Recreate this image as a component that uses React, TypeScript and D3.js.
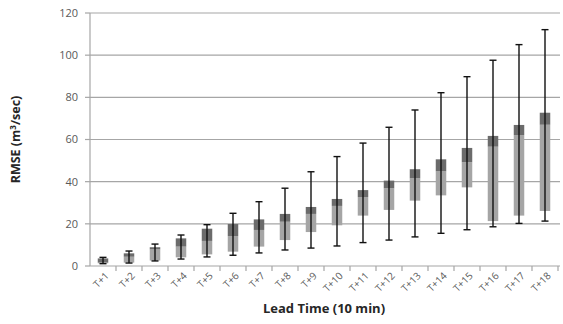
import * as d3 from "d3";

// lead times and RMSE statistics
const leadTimes = ["T+1", "T+2", "T+3", "T+4", "T+5", "T+6", "T+7", "T+8", "T+9", "T+10", "T+11", "T+12", "T+13", "T+14", "T+15", "T+16", "T+17", "T+18"];
const whiskerLow = [1.1, 1.4, 2.4, 3.3, 4.3, 5.1, 6.2, 7.6, 8.5, 9.5, 11.1, 12.3, 13.8, 15.5, 17.2, 18.6, 20.2, 21.3];
const whiskerHigh = [4.1, 7.1, 10.4, 14.7, 19.6, 25, 30.5, 36.9, 44.7, 51.9, 58.3, 65.8, 74, 82.2, 89.8, 97.6, 105, 112.1];
const boxLow = [1.3, 1.6, 2.6, 4.1, 5.5, 6.8, 9.2, 12.3, 16.1, 19.3, 23.9, 26.6, 31, 33.5, 37.3, 21.3, 23.9, 26.1];
const boxMid = [1.6, 4.4, 7.9, 9.2, 11.9, 14.2, 17.1, 21, 24.7, 28.5, 32.7, 36.9, 41.6, 44.9, 49.2, 56.6, 62.1, 67];
const boxHigh = [3.6, 6, 8.9, 13.1, 17.7, 19.9, 22.1, 24.7, 28, 31.8, 36, 40.5, 45.9, 50.6, 56, 61.7, 66.9, 72.7];
const yTicks = [0, 20, 40, 60, 80, 100, 120];

const W = 563;
const H = 324;
const left = 90;
const right = 558;
const top = 13;
const bottom = 266;

export default function App() {
  const x = d3.scaleBand().domain(leadTimes).range([left, right]);
  const y = d3.scaleLinear().domain([0, 120]).range([bottom, top]);
  const bw = 10.5;
  const font = "'Open Sans', 'Liberation Sans', sans-serif";

  return (
    <svg width={W} height={H} style={{ position: "absolute", left: 0, top: 0, background: "#fff" }}>
      {yTicks.map((t) => (
        <g key={t}>
          {t > 0 && <line x1={left} x2={right + 2} y1={y(t)} y2={y(t)} stroke="#a6a6a6" strokeWidth={1.2} />}
          <line x1={left - 5} x2={left} y1={y(t)} y2={y(t)} stroke="#a6a6a6" strokeWidth={1.2} />
          <text x={78} y={y(t)} dy="0.35em" textAnchor="end" fontSize={11} fill="#595959" fontFamily={font}>
            {t}
          </text>
        </g>
      ))}
      <line x1={left} x2={left} y1={top} y2={bottom} stroke="#a6a6a6" strokeWidth={1.2} />
      <line x1={left} x2={right + 2} y1={bottom} y2={bottom} stroke="#a6a6a6" strokeWidth={1.2} />
      {leadTimes.map((d, i) => {
        const x0 = x(d)!;
        return <line key={"tk" + i} x1={x0 + x.bandwidth()} x2={x0 + x.bandwidth()} y1={bottom} y2={bottom + 5} stroke="#a6a6a6" strokeWidth={1.2} />;
      })}
      {leadTimes.map((d, i) => {
        const cx = x(d)! + x.bandwidth() / 2;
        return (
          <g key={d}>
            <rect x={cx - bw / 2} y={y(boxMid[i])} width={bw} height={y(boxLow[i]) - y(boxMid[i])} fill="#a5a5a5" />
            <rect x={cx - bw / 2} y={y(boxHigh[i])} width={bw} height={y(boxMid[i]) - y(boxHigh[i])} fill="#6b6b6b" />
            <line x1={cx} x2={cx} y1={y(whiskerLow[i])} y2={y(whiskerHigh[i])} stroke="#111" strokeWidth={1.4} />
            <line x1={cx - 3.5} x2={cx + 3.5} y1={y(whiskerLow[i])} y2={y(whiskerLow[i])} stroke="#111" strokeWidth={1.4} />
            <line x1={cx - 3.5} x2={cx + 3.5} y1={y(whiskerHigh[i])} y2={y(whiskerHigh[i])} stroke="#111" strokeWidth={1.4} />
            <text
              transform={`translate(${cx + 4},${bottom + 8}) rotate(-45)`}
              textAnchor="end"
              dy="0.35em"
              fontSize={10}
              fill="#595959"
              fontFamily={font}
            >
              {d}
            </text>
          </g>
        );
      })}
      <text
        transform={`translate(20,${(top + bottom) / 2}) rotate(-90)`}
        textAnchor="middle"
        fontSize={12.5}
        fontWeight="bold"
        fill="#262626"
        fontFamily={font}
      >
        RMSE (m<tspan dy="-4" fontSize={8}>3</tspan>
        <tspan dy="4">/sec)</tspan>
      </text>
      <text x={(left + right) / 2} y={313} textAnchor="middle" fontSize={13} fontWeight="bold" fill="#262626" fontFamily={font}>
        Lead Time (10 min)
      </text>
    </svg>
  );
}
